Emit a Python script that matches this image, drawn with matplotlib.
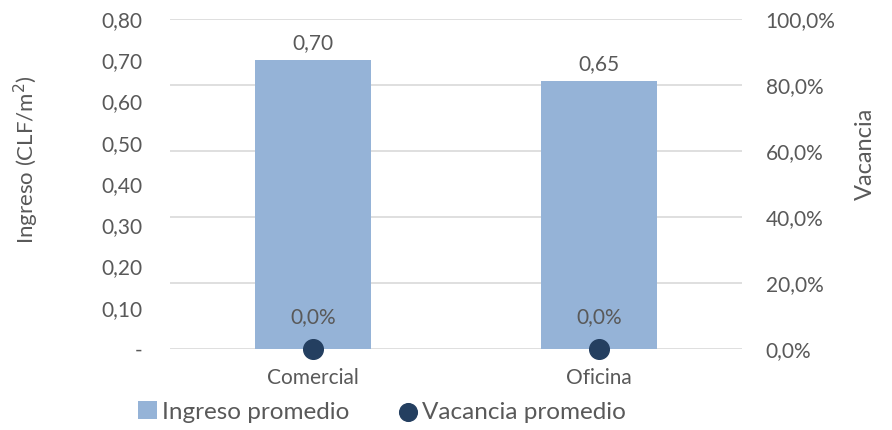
import matplotlib.pyplot as plt
from matplotlib.ticker import FuncFormatter

categorias = ['Comercial', 'Oficina']
ingreso = [0.70, 0.65]
vacancia = [0.0, 0.0]

plt.rcParams['font.family'] = ['Lato', 'DejaVu Sans']
gris = '#595959'
azul_barra = '#95B3D7'
azul_punto = '#243F60'
fs = 15

fig = plt.figure(figsize=(8.92, 4.3), dpi=100)
ax = fig.add_axes([170 / 892, 1 - 349 / 430, 572 / 892, 330 / 430])
ax2 = ax.twinx()

x = list(range(len(categorias)))
# lineas de la grilla siguen al eje derecho, pero se dibujan detras de las barras
for t in [i / 5 for i in range(6)]:
    ax.axhline(t * 0.8, color='#D9D9D9', linewidth=1.2, zorder=0)
barras = ax.bar(x, ingreso, width=0.405, color=azul_barra, label='Ingreso promedio', zorder=2)
ax.set_xlim(-0.5, 1.5)
ax.set_ylim(0, 0.8)
ax.set_yticks([i / 10 for i in range(9)])
ax.yaxis.set_major_formatter(FuncFormatter(lambda v, p: '-' if v == 0 else f'{v:.2f}'.replace('.', ',')))
ax.set_xticks(x)
ax.set_xticklabels(categorias)
for b, v in zip(barras, ingreso):
    ax.annotate(f'{v:.2f}'.replace('.', ','), (b.get_x() + b.get_width() / 2, v),
                xytext=(0, 5), textcoords='offset points', ha='center', va='bottom',
                color=gris, fontsize=fs)

ax2.scatter(x, vacancia, s=200, color=azul_punto, zorder=5, clip_on=False, label='Vacancia promedio')
ax2.set_ylim(0, 1.0)
ax2.set_yticks([i / 5 for i in range(6)])
ax2.yaxis.set_major_formatter(FuncFormatter(lambda v, p: f'{v * 100:.1f}%'.replace('.', ',')))
for xi, v in zip(x, vacancia):
    ax2.annotate(f'{v * 100:.1f}%'.replace('.', ','), (xi, v), xytext=(0, 16),
                 textcoords='offset points', ha='center', va='bottom', color=gris, fontsize=fs)

for a in (ax, ax2):
    for s in a.spines.values():
        s.set_visible(False)
    a.tick_params(length=0, colors=gris, labelsize=fs)
ax.tick_params(axis='y', pad=20)
ax.tick_params(axis='x', pad=14)
ax2.tick_params(axis='y', pad=17)

ax.set_ylabel('Ingreso (CLF/m$^2$)', color=gris, fontsize=16)
ax.yaxis.set_label_coords(-0.226, 0.575)
ax2.set_ylabel('Vacancia', color=gris, fontsize=17)
ax2.yaxis.set_label_coords(1.198, 0.59)

h1, l1 = ax.get_legend_handles_labels()
h2, l2 = ax2.get_legend_handles_labels()
fig.legend(h1 + h2, l1 + l2, loc='center', bbox_to_anchor=(0.428, 18 / 430),
           ncol=2, frameon=False, fontsize=17.5, labelcolor=gris, handlelength=0.8,
           handletextpad=0.2, columnspacing=2.0, markerscale=0.9)

fig.savefig('out.png', dpi=100)
